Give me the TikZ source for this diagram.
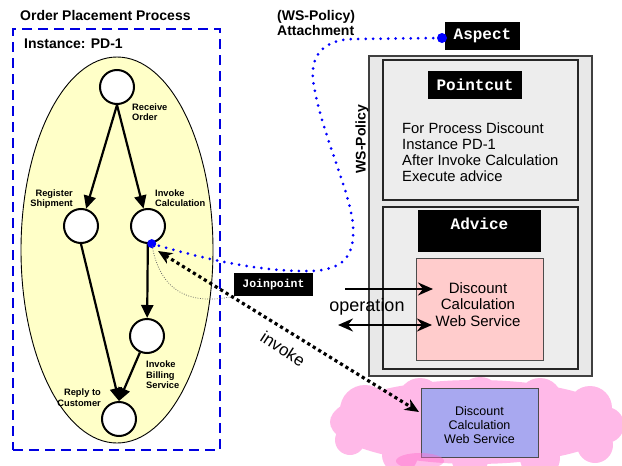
\documentclass[tikz,border=0pt]{standalone}
\usepackage{fontspec}
\setmainfont{Liberation Sans}
\newfontfamily\monofont{Liberation Mono}
\usetikzlibrary{arrows.meta,shapes.geometric}
\newcommand\myfs[2]{\fontsize{#1}{#2}\selectfont}
\definecolor{dashblue}{RGB}{0,0,225}
\definecolor{dotblue}{RGB}{0,0,255}
\definecolor{laneyellow}{RGB}{255,255,200}
\definecolor{boxgray}{RGB}{232,232,232}
\definecolor{pinkbox}{RGB}{255,204,204}
\definecolor{bluebox}{RGB}{168,168,240}
\definecolor{cloudpink}{RGB}{255,185,232}
\definecolor{blobpink}{RGB}{255,110,205}
\begin{document}
\begin{tikzpicture}[x=1pt,y=-1pt,
  proc/.style={circle,draw,line width=2pt,fill=white,minimum size=34pt,inner sep=0pt},
  parr/.style={line width=2.2pt,-{Triangle[length=13pt,width=12pt]}},
  plbl/.style={font=\bfseries\myfs{9.3}{10.7},inner sep=0pt},
  head/.style={font=\bfseries\myfs{14}{15},inner sep=0pt},
  tlabel/.style={fill=black,text=white,font=\monofont\bfseries\myfs{16}{18},inner sep=0pt},
  gbox/.style={draw=black!75,fill=boxgray,line width=1.3pt,inner sep=0pt},
  bluedot/.style={circle,fill=dotblue,inner sep=0pt,minimum size=9pt},
  bdots/.style={dotblue,line width=3pt,line cap=round,dash pattern=on 0pt off 7.5pt},
  invk/.style={line width=3.2pt,dash pattern=on 3.2pt off 3.2pt,
     {Stealth[length=14pt,width=12pt,inset=4pt]}-{Stealth[length=14pt,width=12pt,inset=4pt]}},
  oparr/.style={line width=2.5pt,-{Stealth[length=15pt,width=13pt,inset=5pt]}},
  opdarr/.style={line width=2.5pt,{Stealth[length=15pt,width=13pt,inset=5pt]}-{Stealth[length=15pt,width=13pt,inset=5pt]}},
  thindot/.style={draw=black!60,line width=0.8pt,dash pattern=on 0.8pt off 1.6pt}
]
\useasboundingbox (0,0) rectangle (622,466);

% ---------------- left: process ----------------
\node[head,anchor=base west] (title) at (20,20) {Order Placement Process};
\node[draw=dashblue,line width=2.6pt,dash pattern=on 10pt off 6pt,
      minimum width=207pt,minimum height=421pt,inner sep=0pt] (instbox) at (116.5,239.5) {};
\node[head,anchor=base west] (inst) at (24,48) {Instance: PD-1};
\node[ellipse,draw,line width=0.9pt,fill=laneyellow,minimum width=192pt,
      minimum height=386pt,inner sep=0pt] (lane) at (117,250) {};

\node[proc] (recv) at (117,87) {};
\node[proc] (reg) at (81,226) {};
\node[proc] (calc) at (148,226) {};
\node[proc] (bill) at (147,336) {};
\node[proc] (reply) at (119,419) {};

\draw[parr] (recv.south) -- (reg);
\draw[parr] (recv.south) -- (calc);
\draw[parr] (calc) -- (bill);
\draw[parr] (reg.south) -- (reply.north);
\draw[parr] (bill) -- (reply.north);

\node[plbl,anchor=base west,align=left] (lrecv) at (132,120.7) {Receive\\Order};
\node[plbl,anchor=base east,align=right] (lreg) at (73,206.7) {Register\\Shipment};
\node[plbl,anchor=base west,align=left] (lcalc) at (155,206.7) {Invoke\\Calculation};
\node[plbl,anchor=base west,align=left] (lbill) at (146,388.8) {Invoke\\Billing\\Service};
\node[plbl,anchor=base east,align=right] (lreply) at (101,406.4) {Reply to\\Customer};

% ---------------- cloud ----------------
\fill[cloudpink]
  (475,422) ellipse [x radius=145pt,y radius=42pt]
  (365,410) circle [radius=25pt]
  (420,400) circle [radius=22pt]
  (480,399) circle [radius=22pt]
  (540,400) circle [radius=22pt]
  (590,408) circle [radius=22pt]
  (606,425) circle [radius=18pt]
  (350,440) circle [radius=15pt]
  (400,455) circle [radius=18pt]
  (470,460) circle [radius=18pt]
  (540,458) circle [radius=20pt]
  (595,445) circle [radius=18pt];
\node[draw=black!70,line width=1pt,fill=bluebox,minimum width=117pt,minimum height=69pt,
      inner sep=0pt] (ws2) at (479.5,422.5) {};
\node[align=center,anchor=base,font=\myfs{12.5}{13.8},inner sep=0pt] (ws2txt) at (479.5,443.3)
  {Discount\\Calculation\\Web Service};
\fill[blobpink,opacity=0.45] (420,461) ellipse [x radius=24pt,y radius=8pt];

% ---------------- right: WS-Policy ----------------
\node[gbox,minimum width=223pt,minimum height=320pt] (policy) at (480.5,216) {};
\node[gbox,draw=black!85,line width=1.2pt,fill=black!7,minimum width=195pt,minimum height=140pt] (pcbox) at (480.5,130) {};
\node[gbox,draw=black!85,line width=1.2pt,fill=black!7,minimum width=195pt,minimum height=162pt] (advbox) at (480.5,288) {};
\node[head,rotate=90] (wsp) at (362,139) {WS-Policy};
\node[head,anchor=base west,align=left] (attach) at (277,35) {(WS-Policy)\\Attachment};

\node[tlabel,minimum width=75pt,minimum height=28pt] (aspect) at (482.5,36) {Aspect};
\node[tlabel,minimum width=94pt,minimum height=28pt] (pointcut) at (475,85) {Pointcut};
\node[anchor=base west,align=left,font=\myfs{14.8}{16.2},inner sep=0pt] (pctext) at (402,181.9)
  {For Process Discount\\Instance PD-1\\After Invoke Calculation\\Execute advice};
\node[fill=black,minimum width=123pt,minimum height=42pt,inner sep=0pt] (advlbl) at (479.5,231) {};
\node[tlabel,fill=none] (advtxt) at (479.5,224) {Advice};

\node[draw=black!70,line width=1pt,fill=pinkbox,minimum width=127pt,minimum height=102pt,
      inner sep=0pt] (ws1) at (479.5,309) {};
\node[align=center,anchor=base,font=\myfs{15}{16.2},inner sep=0pt] (ws1txt) at (478,326.1)
  {Discount\\Calculation\\Web Service};

\coordinate (op1s) at (345,289);
\coordinate (op1e) at (433,289);
\coordinate (op2s) at (338,325);
\coordinate (op2e) at (432,325);
\draw[oparr] (op1s) -- (op1e);
\draw[opdarr] (op2s) -- (op2e);
\node[anchor=base,font=\myfs{18}{20},inner sep=0pt] (optxt) at (367,311.7) {operation};

% ---------------- joinpoint & connectors ----------------
\node[tlabel,font=\monofont\bfseries\myfs{11.5}{13},minimum width=79pt,minimum height=23pt] (jp) at (273.5,284.5) {Joinpoint};
\node[bluedot] (jpdot) at (calc.-78) {};
\node[bluedot,minimum size=10pt] (aspdot) at (442,38) {};

\draw[thindot] (jpdot.center) .. controls (158,282) and (180,308) .. (jp.south west);

\draw[bdots] (jpdot.center) .. controls (200,258) and (260,272) .. (310,271)
  .. controls (345,270) and (355,255) .. (353,225)
  .. controls (350,190) and (320,130) .. (313,80)
  .. controls (310,50) and (330,39) .. (355,39) -- (aspdot.center);

\coordinate (invA) at (158,251);
\coordinate (invB) at (419,412);
\draw[invk] (invA) -- (invB);
\node[font=\myfs{17}{19},rotate=-33,inner sep=0pt] (invtxt) at (283,349) {invoke};
\end{tikzpicture}
\end{document}
